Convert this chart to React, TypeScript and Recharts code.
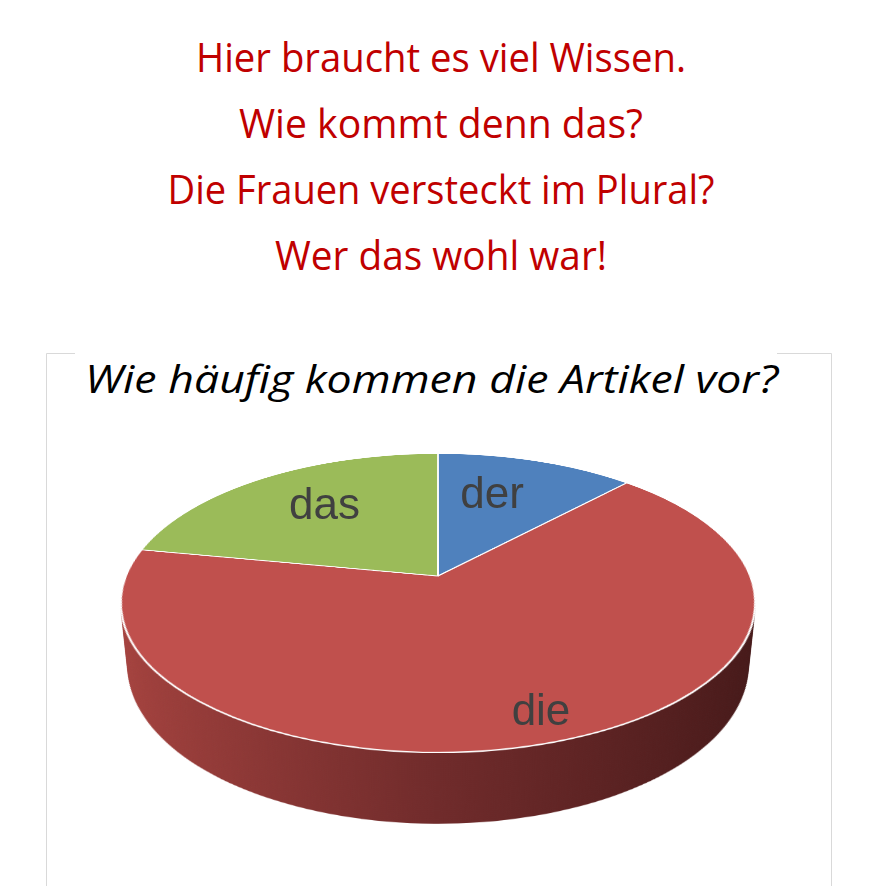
import { Cell, Pie, PieChart } from 'recharts';

// Anteil der Artikel (in Prozent)
const ARTICLES = ['der', 'die', 'das'];
const SHARES = [12, 66, 22];
const TOP_COLORS = ['#4F81BD', '#C0504D', '#9BBB59'];
const SIDE_COLORS = ['#2F4D71', '#7A2E2D', '#5D7035'];

const HEADLINES = [
  'Hier braucht es viel Wissen.',
  'Wie kommt denn das?',
  'Die Frauen versteckt im Plural?',
  'Wer das wohl war!',
];
const TITLE = 'Wie häufig kommen die Artikel vor?';

const data = ARTICLES.map((name, i) => ({ name, value: SHARES[i] }));

// Layout der Überschriften (Grundlinie, Breite)
const HEADLINE_BASELINES = [72, 138, 204, 270];
const HEADLINE_WIDTHS = [490, 404, 547, 332];

// 3D-Optik: Kreis wird per CSS perspektivisch gekippt, Seite aus gestapelten Ebenen
const SIZE = 640;
const R = 312;
const CX = 438;
const CY = 575.5;
const TILT = 62.4;
const PERSP = 1530;
const DEPTH = 72;
const STEP = 2;

// Beschriftung: Radius-Anteil und kleine Korrektur wie bei Excel "beste Anpassung"
const LABEL_RADIUS: Record<string, number> = { der: 0.69, das: 0.71, die: 0.835 };
const LABEL_SHIFT_X: Record<string, number> = { der: -17, das: 15, die: 9 };

function project(angleDeg: number, r: number) {
  const a = (angleDeg * Math.PI) / 180;
  const t = (TILT * Math.PI) / 180;
  const x = r * Math.cos(a);
  const yDown = -r * Math.sin(a);
  const f = PERSP / (PERSP - yDown * Math.sin(t));
  return { dx: x * f, dy: yDown * Math.cos(t) * f };
}

function renderLabel(props: any) {
  const { cx, cy, midAngle, outerRadius } = props;
  const name = props.payload?.name ?? props.name;
  const p = project(midAngle, outerRadius * (LABEL_RADIUS[name] ?? 0.7));
  return (
    <text
      x={cx + p.dx + (LABEL_SHIFT_X[name] ?? 0)}
      y={cy + p.dy + 15.5}
      textAnchor="middle"
      fontSize={44}
      fill="#404040"
      fontFamily="'Liberation Sans', Arial, sans-serif"
    >
      {name}
    </text>
  );
}

function Layer({ depth, top }: { depth: number; top?: boolean }) {
  const gid = `side-${depth}`;
  return (
    <div
      style={{
        position: 'absolute',
        left: CX - SIZE / 2,
        top: CY - SIZE / 2,
        width: SIZE,
        height: SIZE,
        transform: `perspective(${PERSP}px) rotateX(${TILT}deg) translateZ(${-depth}px)`,
      }}
    >
      <PieChart width={SIZE} height={SIZE} margin={{ top: 0, right: 0, bottom: 0, left: 0 }}>
        {!top && (
          <defs>
            <linearGradient id={gid} x1={0} y1={0} x2={SIZE} y2={0} gradientUnits="userSpaceOnUse">
              <stop offset="0.02" stopColor="#A6433F" />
              <stop offset="0.5" stopColor="#702B2B" />
              <stop offset="1" stopColor="#431818" />
            </linearGradient>
          </defs>
        )}
        <Pie
          data={data}
          dataKey="value"
          nameKey="name"
          cx={SIZE / 2}
          cy={SIZE / 2}
          outerRadius={R}
          startAngle={90}
          endAngle={-270}
          stroke={top ? '#fff' : 'none'}
          strokeWidth={top ? 2 : 0}
          isAnimationActive={false}
        >
          {data.map((d, i) => (
            <Cell
              key={d.name}
              fill={top ? TOP_COLORS[i] : d.name === 'die' ? `url(#${gid})` : SIDE_COLORS[i]}
            />
          ))}
        </Pie>
      </PieChart>
    </div>
  );
}

export default function App() {
  const depths: number[] = [];
  for (let h = DEPTH; h > 0; h -= STEP) depths.push(h);

  return (
    <div style={{ position: 'absolute', left: 0, top: 0, width: 874, height: 886, background: '#fff', overflow: 'hidden' }}>
      <svg width={874} height={886} style={{ position: 'absolute', left: 0, top: 0 }}>
        {HEADLINES.map((line, i) => (
          <text
            key={line}
            x={441}
            y={HEADLINE_BASELINES[i]}
            textAnchor="middle"
            fontSize={41}
            fill="#C00000"
            fontFamily="'Open Sans', 'Noto Sans', sans-serif"
            textLength={HEADLINE_WIDTHS[i]}
            lengthAdjust="spacingAndGlyphs"
          >
            {line}
          </text>
        ))}
        <path d="M46.5,886 V353.5 H75 M777,353.5 H831.5 V886" fill="none" stroke="#D9D9D9" strokeWidth={1} />
        <text
          x={431.5}
          y={393}
          textAnchor="middle"
          fontSize={38}
          fontStyle="italic"
          fill="#000"
          fontFamily="'Open Sans', 'Noto Sans', sans-serif"
          textLength={693}
          lengthAdjust="spacingAndGlyphs"
        >
          {TITLE}
        </text>
      </svg>
      {depths.map((h) => (
        <Layer key={h} depth={h} />
      ))}
      <Layer depth={0} top />
      <div style={{ position: 'absolute', left: 0, top: 0 }}>
        <PieChart width={874} height={886} margin={{ top: 0, right: 0, bottom: 0, left: 0 }}>
          <Pie
            data={data}
            dataKey="value"
            nameKey="name"
            cx={CX}
            cy={CY}
            outerRadius={R}
            startAngle={90}
            endAngle={-270}
            fill="none"
            stroke="none"
            label={renderLabel}
            labelLine={false}
            isAnimationActive={false}
          />
        </PieChart>
      </div>
    </div>
  );
}
